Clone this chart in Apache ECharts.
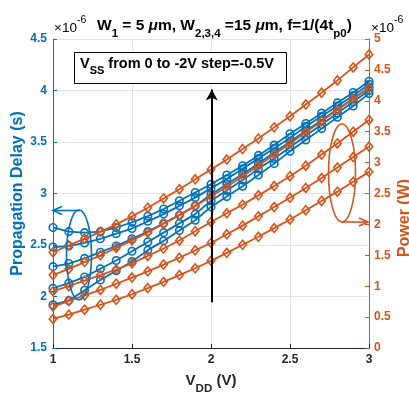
<!DOCTYPE html>
<html><head><meta charset="utf-8">
<script src="https://cdn.jsdelivr.net/npm/echarts@6/dist/echarts.min.js"></script>
<style>html,body{margin:0;padding:0;background:#fff}#c{width:409px;height:394px}</style>
</head><body><div id="c"></div>
<script>
// ---- data ----
const vdd = [1.0,1.1,1.2,1.3,1.4,1.5,1.6,1.7,1.8,1.9,2.0,2.1,2.2,2.3,2.4,2.5,2.6,2.7,2.8,2.9,3.0];
const xTicks = [1, 1.5, 2, 2.5, 3];
const delayTicks = [1.5, 2, 2.5, 3, 3.5, 4, 4.5];       // ×1e-6 s
const powerTicks = [0, 0.5, 1, 1.5, 2, 2.5, 3, 3.5, 4, 4.5, 5]; // ×1e-6 W
// propagation delay (×1e-6 s), five Vss values
const delay1 = [2.67,2.63,2.62,2.63,2.67,2.72,2.78,2.85,2.93,3.01,3.09,3.18,3.27,3.37,3.47,3.58,3.68,3.78,3.88,3.98,4.09];
const delay2 = [2.48,2.49,2.52,2.56,2.61,2.66,2.73,2.80,2.88,2.96,3.05,3.14,3.24,3.34,3.44,3.54,3.65,3.75,3.85,3.95,4.06];
const delay3 = [2.29,2.32,2.37,2.43,2.49,2.56,2.63,2.71,2.79,2.88,2.99,3.09,3.19,3.29,3.40,3.50,3.61,3.71,3.82,3.92,4.03];
const delay4 = [2.08,2.13,2.19,2.27,2.35,2.44,2.53,2.62,2.71,2.80,2.93,3.03,3.13,3.24,3.34,3.45,3.56,3.67,3.78,3.89,4.00];
const delay5 = [1.92,1.96,2.06,2.16,2.25,2.34,2.45,2.54,2.64,2.74,2.87,2.97,3.07,3.18,3.29,3.41,3.52,3.63,3.74,3.85,3.97];
// power (×1e-6 W), five Vss values
const power1 = [1.55,1.66,1.77,1.88,2.00,2.13,2.27,2.42,2.57,2.73,2.89,3.05,3.22,3.39,3.57,3.75,3.94,4.13,4.33,4.54,4.75];
const power2 = [1.18,1.28,1.39,1.50,1.62,1.74,1.87,2.01,2.15,2.30,2.45,2.61,2.78,2.95,3.13,3.31,3.49,3.67,3.85,4.03,4.21];
const power3 = [0.92,1.00,1.09,1.18,1.27,1.37,1.49,1.61,1.74,1.89,2.04,2.18,2.32,2.47,2.62,2.78,2.95,3.13,3.31,3.50,3.69];
const power4 = [0.67,0.76,0.85,0.94,1.04,1.14,1.24,1.35,1.46,1.58,1.70,1.84,1.98,2.13,2.28,2.43,2.59,2.75,2.92,3.09,3.26];
const power5 = [0.47,0.54,0.62,0.70,0.78,0.87,0.97,1.07,1.18,1.29,1.41,1.54,1.67,1.80,1.94,2.08,2.23,2.38,2.53,2.69,2.85];

const BLUE = '#0072BD', ORANGE = '#D95319';
const FONT = 'Liberation Sans, Arial, Helvetica, sans-serif';
const pairs = ys => vdd.map((x, i) => [x, ys[i]]);

const blueSeries = [delay1, delay2, delay3, delay4, delay5].map((d, i) => ({
  name: 'delay' + (i + 1), type: 'line', yAxisIndex: 0, data: pairs(d),
  symbol: 'circle', symbolSize: 7.5,
  lineStyle: { color: BLUE, width: 1.8 },
  itemStyle: { color: 'rgba(255,255,255,0)', borderColor: BLUE, borderWidth: 1.6 },
  emphasis: { disabled: true }, animation: false, z: 2
}));
const orangeSeries = [power1, power2, power3, power4, power5].map((d, i) => ({
  name: 'power' + (i + 1), type: 'line', yAxisIndex: 1, data: pairs(d),
  symbol: 'diamond', symbolSize: [7.5, 9],
  lineStyle: { color: ORANGE, width: 1.8 },
  itemStyle: { color: 'rgba(255,255,255,0)', borderColor: ORANGE, borderWidth: 1.6 },
  emphasis: { disabled: true }, animation: false, z: 3
}));
// vertical black arrow (Vss sweep direction)
blueSeries[0].markLine = {
  silent: true, animation: false, symbol: ['none', 'arrow'], symbolSize: [9, 11],
  lineStyle: { color: '#000', width: 2, type: 'solid' }, label: { show: false },
  data: [[{ coord: [2.005, 1.945] }, { coord: [2.005, 4.01] }]]
};

const chart = echarts.init(document.getElementById('c'), null, { renderer: 'canvas' });
chart.setOption({
  animation: false,
  backgroundColor: '#fff',
  grid: { left: 53, right: 40, top: 39, bottom: 46, containLabel: false, outerBoundsMode: 'none' },
  xAxis: {
    type: 'value', min: 1, max: 3, interval: 0.5,
    name: '{v|V}{s|DD}{v| (V)}', nameLocation: 'middle', nameGap: 25, nameMoveOverlap: false,
    nameTextStyle: { rich: {
      v: { fontFamily: FONT, fontWeight: 'bold', fontSize: 15, color: '#262626', lineHeight: 20, verticalAlign: 'top' },
      s: { fontFamily: FONT, fontWeight: 'bold', fontSize: 11.5, color: '#262626', lineHeight: 20, padding: [10, 0, 0, 0], verticalAlign: 'top' }
    } },
    axisLine: { lineStyle: { color: '#262626', width: 1 } },
    axisTick: { inside: true, length: 4, lineStyle: { color: '#262626' } },
    axisLabel: { color: '#262626', fontFamily: FONT, fontWeight: 'bold', fontSize: 12, margin: 6,
      formatter: v => xTicks.includes(v) ? String(v) : '' },
    splitLine: { show: true, lineStyle: { color: '#e3e3e3', width: 1 } }
  },
  yAxis: [{
    type: 'value', min: 1.5, max: 4.5, interval: 0.5, position: 'left',
    name: 'Propagation Delay (s)', nameLocation: 'middle', nameGap: 27, nameMoveOverlap: false,
    nameTextStyle: { color: BLUE, fontFamily: FONT, fontWeight: 'bold', fontSize: 16 },
    axisLine: { show: true, lineStyle: { color: BLUE, width: 1 } },
    axisTick: { show: true, inside: true, length: 4, lineStyle: { color: BLUE } },
    axisLabel: { color: BLUE, fontFamily: FONT, fontWeight: 'bold', fontSize: 12, margin: 6,
      formatter: v => delayTicks.includes(v) ? String(v) : '' },
    splitLine: { show: true, lineStyle: { color: '#e3e3e3', width: 1 } }
  }, {
    type: 'value', min: 0, max: 5, interval: 0.5, position: 'right',
    axisLine: { show: true, lineStyle: { color: ORANGE, width: 1 } },
    axisTick: { show: true, inside: true, length: 4, lineStyle: { color: ORANGE } },
    axisLabel: { color: ORANGE, fontFamily: FONT, fontWeight: 'bold', fontSize: 12, margin: 5,
      formatter: v => powerTicks.includes(v) ? String(v) : '' },
    splitLine: { show: false }
  }],
  series: blueSeries.concat(orangeSeries),
  graphic: [
    // top-left exponent
    { type: 'text', left: 54, top: 15, silent: true, style: {
      text: '{a|×10}{b|-6}', rich: {
        a: { fontFamily: FONT, fontSize: 13.5, color: BLUE, lineHeight: 20, verticalAlign: 'bottom' },
        b: { fontFamily: FONT, fontSize: 10.5, color: BLUE, lineHeight: 12, verticalAlign: 'top' }
      } } },
    // top-right exponent
    { type: 'text', left: 371, top: 15, silent: true, style: {
      text: '{a|×10}{b|-6}', rich: {
        a: { fontFamily: FONT, fontSize: 13.5, color: ORANGE, lineHeight: 20, verticalAlign: 'bottom' },
        b: { fontFamily: FONT, fontSize: 10.5, color: ORANGE, lineHeight: 12, verticalAlign: 'top' }
      } } },
    // title
    { type: 'text', left: 97, top: 18, silent: true, style: {
      text: '{t|W}{s|1}{t| = 5 }{m|μ}{t|m, W}{s|2,3,4}{t| =15 }{m|μ}{t|m, f=1/(4t}{s|p0}{t|)}', rich: {
        t: { fontFamily: FONT, fontWeight: 'bold', fontSize: 15.5, color: '#000', lineHeight: 17, verticalAlign: 'top' },
        m: { fontFamily: FONT, fontWeight: 'bold', fontStyle: 'italic', fontSize: 15.5, color: '#000', lineHeight: 17, verticalAlign: 'top' },
        s: { fontFamily: FONT, fontWeight: 'bold', fontSize: 11.5, color: '#000', lineHeight: 17, padding: [10,0,0,0], verticalAlign: 'top' }
      } } },
    // annotation box
    { type: 'rect', silent: true, shape: { x: 74.5, y: 52.5, width: 212, height: 31 },
      style: { fill: '#fff', stroke: '#000', lineWidth: 1 }, z: 10 },
    { type: 'text', left: 80, top: 56, silent: true, z: 11, style: {
      text: '{t|V}{s|SS}{t| from 0 to -2V step=-0.5V}', rich: {
        t: { fontFamily: FONT, fontWeight: 'bold', fontSize: 14.5, color: '#000', lineHeight: 16, verticalAlign: 'top' },
        s: { fontFamily: FONT, fontWeight: 'bold', fontSize: 11, color: '#000', lineHeight: 16, padding: [9,0,0,0], verticalAlign: 'top' }
      } } },
    // right axis name
    { type: 'text', silent: true, x: 405, y: 218, rotation: Math.PI / 2, style: {
      text: 'Power (W)', fontFamily: FONT, fontWeight: 'bold', fontSize: 16, fill: ORANGE,
      align: 'center', verticalAlign: 'middle' } },
    // blue ellipse + arrow
    { type: 'ellipse', silent: true, shape: { cx: 79, cy: 255, rx: 12.5, ry: 45 },
      style: { fill: 'none', stroke: BLUE, lineWidth: 1.6 }, z: 10 },
    { type: 'line', silent: true, shape: { x1: 80, y1: 210.5, x2: 55, y2: 210.5 },
      style: { stroke: BLUE, lineWidth: 1.6 }, z: 10 },
    { type: 'polyline', silent: true, shape: { points: [[62, 206.5], [53, 210.5], [62, 214.5]] },
      style: { stroke: BLUE, fill: 'none', lineWidth: 1.6 }, z: 10 },
    // orange ellipse + arrow
    { type: 'ellipse', silent: true, shape: { cx: 342, cy: 173, rx: 13.5, ry: 49 },
      style: { fill: 'none', stroke: ORANGE, lineWidth: 1.6 }, z: 10 },
    { type: 'line', silent: true, shape: { x1: 342, y1: 222, x2: 366, y2: 222 },
      style: { stroke: ORANGE, lineWidth: 1.6 }, z: 10 },
    { type: 'polyline', silent: true, shape: { points: [[359, 218], [368, 222], [359, 226]] },
      style: { stroke: ORANGE, fill: 'none', lineWidth: 1.6 }, z: 10 }
  ]
});
</script></body></html>
